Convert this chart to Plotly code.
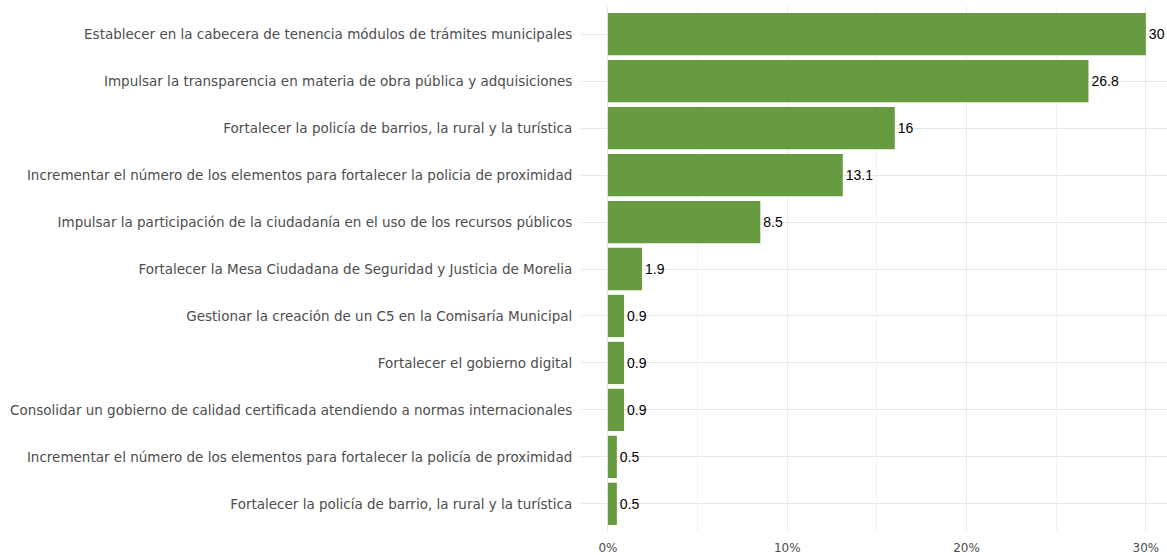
import plotly.graph_objects as go

categories = [
    "Establecer en la cabecera de tenencia módulos de trámites municipales",
    "Impulsar la transparencia en materia de obra pública y adquisiciones",
    "Fortalecer la policía de barrios, la rural y la turística",
    "Incrementar el número de los elementos para fortalecer la policia de proximidad",
    "Impulsar la participación de la ciudadanía en el uso de los recursos públicos",
    "Fortalecer la Mesa Ciudadana de Seguridad y Justicia de Morelia",
    "Gestionar la creación de un C5 en la Comisaría Municipal",
    "Fortalecer el gobierno digital",
    "Consolidar un gobierno de calidad certificada atendiendo a normas internacionales",
    "Incrementar el número de los elementos para fortalecer la policía de proximidad",
    "Fortalecer la policía de barrio, la rural y la turística",
]
values = [30, 26.8, 16, 13.1, 8.5, 1.9, 0.9, 0.9, 0.9, 0.5, 0.5]
value_labels = ["30", "26.8", "16", "13.1", "8.5", "1.9", "0.9", "0.9", "0.9", "0.5", "0.5"]
x_tickvals = [0, 10, 20, 30]
x_ticktext = ["0%", "10%", "20%", "30%"]

fig = go.Figure(
    go.Bar(
        x=values,
        y=categories,
        orientation="h",
        marker=dict(color="#679B41", line=dict(width=0)),
        width=0.9,
        text=value_labels,
        textposition="outside",
        textfont=dict(family="Liberation Sans, Arial", size=14, color="#000000"),
        cliponaxis=False,
        hoverinfo="skip",
    )
)

fig.update_layout(
    width=1167,
    height=555,
    margin=dict(l=581, r=0, t=6, b=23, autoexpand=False),
    plot_bgcolor="white",
    paper_bgcolor="white",
    showlegend=False,
    bargap=0.1,
    uniformtext=dict(minsize=14),
    xaxis=dict(
        range=[-1.5, 31.18],
        tickvals=x_tickvals,
        ticktext=x_ticktext,
        showgrid=True,
        gridcolor="#EBEBEB",
        gridwidth=1.2,
        minor=dict(tickvals=[5, 15, 25], showgrid=True, gridcolor="#F2F2F2", gridwidth=0.6),
        zeroline=False,
        showline=False,
        ticks="outside",
        ticklen=5,
        tickcolor="rgba(0,0,0,0)",
        tickfont=dict(family="DejaVu Sans, sans-serif", size=12, color="#4D4D4D"),
        automargin=False,
    ),
    yaxis=dict(
        categoryorder="array",
        categoryarray=categories,
        autorange=False,
        range=[10.6, -0.6],
        showgrid=True,
        gridcolor="#E6E6E6",
        gridwidth=1.4,
        zeroline=False,
        showline=False,
        ticks="outside",
        ticklen=5,
        tickcolor="rgba(0,0,0,0)",
        tickfont=dict(family="DejaVu Sans, sans-serif", size=13.5, color="#4D4D4D"),
        automargin=False,
    ),
)

fig.write_html(
    "out.html",
    config={"displayModeBar": False},
    post_script="document.body.style.margin='0';document.body.style.padding='0';",
)
